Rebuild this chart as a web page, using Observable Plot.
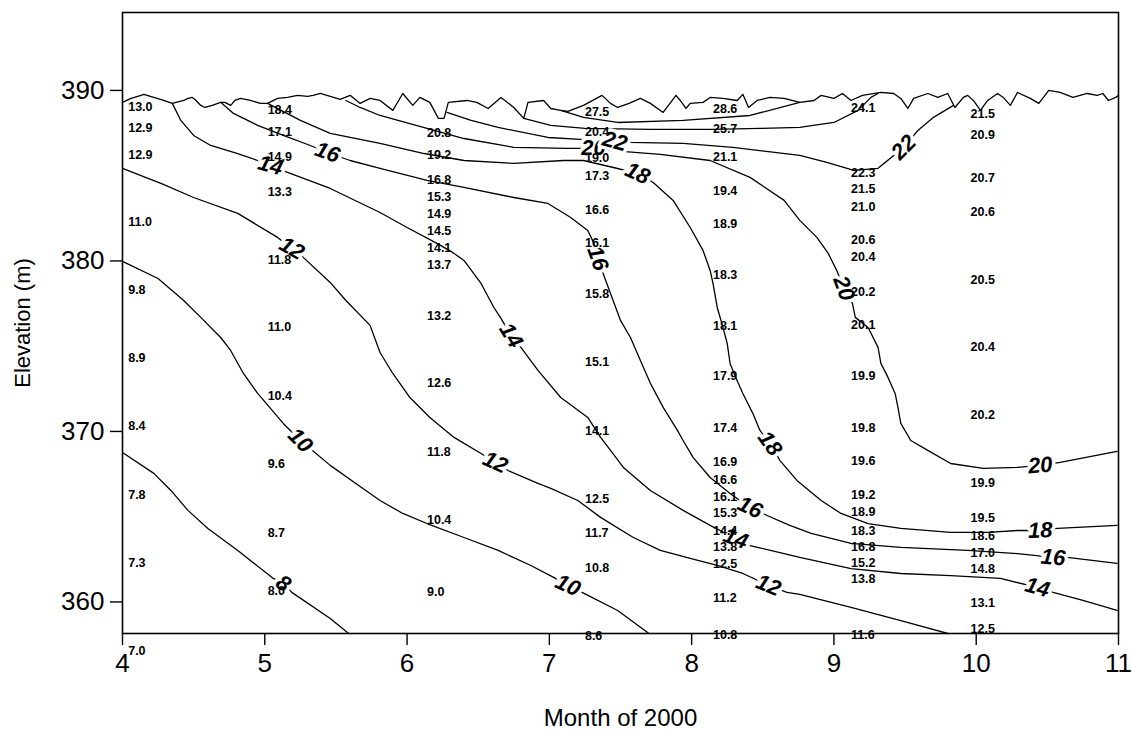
<!DOCTYPE html>
<html><head><meta charset="utf-8">
<script src="https://cdn.jsdelivr.net/npm/d3@7"></script>
<script src="https://cdn.jsdelivr.net/npm/@observablehq/plot@0.6"></script>
<style>
body{margin:0;background:#fff;}
#chart{width:1132px;height:732px;}
</style></head><body><div id="chart"></div>
<script>
// ---- axis ticks ----
const monthTicks = [4, 5, 6, 7, 8, 9, 10, 11];
const elevTicks = [360, 370, 380, 390];

// ---- measured temperature profiles (month of sampling, elevation m, temperature °C) ----
const aprMonth = 4.04;
const aprElev = [389.0, 387.8, 386.2, 382.3, 378.3, 374.3, 370.3, 366.3, 362.3, 357.1];
const aprTemp = [13.0, 12.9, 12.9, 11.0, 9.8, 8.9, 8.4, 7.8, 7.3, 7.0];

const mayMonth = 5.02;
const mayElev = [388.83, 387.55, 386.07, 384.04, 380.03, 376.1, 372.07, 368.12, 364.02, 360.67];
const mayTemp = [18.4, 17.1, 14.9, 13.3, 11.8, 11.0, 10.4, 9.6, 8.7, 8.0];

const junMonth = 6.14;
const junElev = [387.48, 386.19, 384.72, 383.74, 382.73, 381.73, 380.73, 379.74, 376.75, 372.82, 368.79, 364.78, 360.56];
const junTemp = [20.8, 19.2, 16.8, 15.3, 14.9, 14.5, 14.1, 13.7, 13.2, 12.6, 11.8, 10.4, 9.0];

const julMonth = 7.25;
const julElev = [388.73, 387.55, 386.01, 384.96, 382.96, 381.03, 378.04, 374.05, 370.0, 366.01, 364.02, 362.02, 357.98];
const julTemp = [27.5, 20.4, 19.0, 17.3, 16.6, 16.1, 15.8, 15.1, 14.1, 12.5, 11.7, 10.8, 8.6];

const augMonth = 8.15;
const augElev = [388.89, 387.71, 386.09, 384.08, 382.14, 379.15, 376.16, 373.23, 370.18, 368.2, 367.18, 366.14, 365.19, 364.15, 363.2, 362.2, 360.22, 358.04];
const augTemp = [28.6, 25.7, 21.1, 19.4, 18.9, 18.3, 18.1, 17.9, 17.4, 16.9, 16.6, 16.1, 15.3, 14.4, 13.8, 12.5, 11.2, 10.8];

const sepMonth = 9.12;
const sepElev = [388.94, 385.15, 384.19, 383.16, 381.2, 380.25, 378.17, 376.22, 373.24, 370.19, 368.26, 366.25, 365.27, 364.19, 363.21, 362.26, 361.32, 358.04];
const sepTemp = [24.1, 22.3, 21.5, 21.0, 20.6, 20.4, 20.2, 20.1, 19.9, 19.8, 19.6, 19.2, 18.9, 18.3, 16.8, 15.2, 13.8, 11.6];

const octMonth = 9.96;
const octElev = [388.59, 387.36, 384.84, 382.86, 378.86, 374.93, 370.94, 366.97, 364.9, 363.86, 362.86, 361.91, 359.93, 358.39];
const octTemp = [21.5, 20.9, 20.7, 20.6, 20.5, 20.4, 20.2, 19.9, 19.5, 18.6, 17.0, 14.8, 13.1, 12.5];

// ---- water surface elevation [month, elevation] ----
const surface = [[4.0,389.30],[4.06,389.53],[4.13,389.71],[4.15,389.77],[4.22,389.59],[4.29,389.41],[4.35,389.24],[4.43,389.41],[4.46,389.53],[4.49,389.59],[4.51,389.47],[4.55,389.12],[4.58,389.00],[4.63,389.12],[4.69,389.30],[4.72,389.30],[4.76,389.12],[4.79,389.41],[4.83,389.53],[4.90,389.41],[4.97,389.24],[5.02,389.24],[5.09,389.53],[5.16,389.59],[5.23,389.71],[5.30,389.65],[5.34,389.71],[5.39,389.82],[5.46,389.65],[5.53,389.47],[5.60,389.71],[5.67,389.24],[5.74,389.53],[5.81,389.41],[5.90,388.83],[5.97,389.82],[6.04,389.12],[6.09,389.59],[6.16,389.30],[6.22,388.36],[6.26,388.36],[6.29,389.30],[6.42,389.41],[6.49,389.30],[6.57,388.94],[6.66,389.59],[6.75,389.00],[6.82,388.36],[6.85,389.30],[6.96,389.41],[7.01,388.94],[7.08,388.83],[7.13,388.77],[7.24,389.12],[7.37,389.71],[7.43,389.24],[7.48,389.00],[7.56,389.24],[7.64,389.53],[7.71,389.24],[7.80,388.71],[7.89,389.71],[7.92,389.41],[7.96,388.94],[7.99,389.24],[8.08,389.30],[8.13,389.59],[8.22,389.53],[8.32,389.41],[8.36,389.77],[8.40,389.00],[8.46,389.41],[8.55,389.59],[8.65,389.53],[8.76,389.30],[8.86,389.41],[8.91,389.71],[9.00,389.53],[9.06,389.82],[9.12,389.41],[9.20,389.71],[9.33,389.88],[9.42,389.82],[9.47,389.53],[9.52,388.94],[9.56,389.53],[9.66,389.82],[9.73,389.59],[9.80,389.82],[9.85,389.00],[9.91,389.59],[9.94,389.71],[9.98,389.41],[10.03,388.83],[10.08,389.41],[10.15,389.82],[10.19,389.59],[10.24,389.12],[10.29,389.88],[10.38,389.53],[10.44,389.24],[10.51,390.00],[10.59,389.88],[10.68,389.59],[10.78,389.82],[10.85,389.71],[10.89,389.82],[10.93,389.41],[10.98,389.59],[11.0,389.71]];

// ---- isotherms [month, elevation] ----
const iso8 = [[4.00,368.77],[4.22,367.54],[4.34,366.54],[4.46,365.37],[4.60,364.31],[4.81,363.02],[5.06,361.38],[5.13,361.08],[5.19,360.56],[5.46,359.03],[5.59,358.15]];
const iso10 = [[4.00,379.97],[4.25,378.97],[4.43,377.68],[4.55,376.69],[4.69,375.51],[4.76,374.75],[4.85,373.40],[4.95,372.23],[5.13,370.47],[5.25,369.47],[5.31,369.06],[5.46,368.01],[5.64,366.95],[5.81,365.95],[5.97,365.19],[6.14,364.60],[6.40,363.78],[6.64,363.02],[6.87,362.14],[7.03,361.44],[7.13,360.97],[7.23,360.56],[7.48,359.50],[7.70,358.15]];
const iso12 = [[4.00,385.43],[4.27,384.55],[4.50,383.72],[4.81,382.79],[5.09,381.38],[5.19,380.73],[5.27,380.21],[5.46,378.74],[5.57,377.68],[5.74,376.22],[5.81,374.63],[5.90,373.40],[6.02,371.99],[6.16,370.82],[6.33,369.65],[6.52,368.71],[6.62,368.18],[6.71,367.71],[6.92,366.95],[7.01,366.66],[7.20,365.95],[7.36,364.96],[7.59,363.78],[7.78,363.02],[7.99,362.55],[8.18,362.14],[8.36,361.67],[8.54,360.97],[8.67,360.56],[8.76,360.44],[9.12,359.68],[9.47,358.91],[9.80,358.15]];
const iso14 = [[4.35,389.24],[4.41,388.24],[4.50,387.36],[4.62,386.77],[4.81,386.30],[4.95,385.89],[5.04,385.60],[5.16,385.19],[5.46,384.25],[5.81,382.84],[6.00,381.96],[6.21,381.03],[6.32,380.50],[6.40,380.03],[6.52,378.68],[6.61,377.27],[6.66,376.63],[6.73,375.63],[6.80,374.93],[6.92,373.58],[7.08,371.99],[7.27,370.82],[7.36,369.65],[7.43,368.89],[7.52,367.89],[7.71,366.54],[7.94,365.37],[8.13,364.49],[8.31,363.72],[8.41,363.31],[8.65,362.84],[8.76,362.61],[9.12,361.96],[9.47,361.67],[9.82,361.55],[10.17,361.38],[10.43,360.85],[10.54,360.56],[10.75,360.09],[10.99,359.50]];
const iso16 = [[4.69,389.30],[4.78,388.65],[4.95,387.95],[5.13,387.36],[5.32,386.77],[5.44,386.36],[5.60,385.89],[5.81,385.43],[6.14,384.72],[6.40,384.31],[6.75,383.72],[6.99,383.37],[7.15,382.55],[7.27,381.79],[7.31,381.09],[7.34,380.15],[7.37,379.44],[7.43,378.09],[7.50,376.51],[7.57,375.51],[7.64,374.16],[7.71,372.82],[7.80,371.41],[7.90,370.06],[7.94,369.47],[8.01,368.48],[8.13,367.30],[8.27,366.36],[8.41,365.54],[8.53,365.07],[8.69,364.49],[8.84,364.02],[9.12,363.43],[9.47,363.20],[9.94,363.02],[10.29,362.84],[10.54,362.61],[10.64,362.61],[10.99,362.26]];
const iso18 = [[5.02,389.24],[5.25,388.24],[5.46,387.48],[5.81,386.89],[6.12,386.30],[6.40,385.89],[6.75,385.72],[7.10,385.89],[7.24,385.89],[7.45,385.48],[7.62,385.13],[7.73,384.60],[7.87,383.55],[7.99,381.96],[8.08,380.62],[8.13,379.44],[8.15,378.68],[8.18,377.27],[8.22,376.10],[8.25,375.16],[8.27,373.99],[8.31,373.17],[8.36,372.23],[8.43,371.06],[8.48,370.06],[8.55,369.30],[8.62,368.30],[8.74,367.13],[8.91,365.95],[9.05,365.19],[9.24,364.60],[9.47,364.31],[9.82,364.08],[10.08,364.08],[10.29,364.19],[10.45,364.19],[10.57,364.31],[10.99,364.49]];
const iso20 = [[5.57,389.41],[5.67,389.00],[5.81,388.53],[6.14,387.77],[6.40,387.18],[6.75,386.66],[7.13,386.60],[7.31,386.60],[7.42,386.48],[7.78,386.25],[8.13,385.89],[8.41,384.90],[8.65,383.55],[8.76,382.38],[8.88,381.38],[8.96,380.44],[9.02,379.44],[9.07,378.39],[9.13,377.51],[9.15,376.69],[9.24,376.10],[9.31,374.93],[9.33,373.99],[9.38,373.17],[9.43,372.23],[9.45,371.41],[9.47,370.47],[9.54,369.47],[9.66,368.89],[9.82,368.12],[10.05,367.83],[10.29,367.89],[10.45,368.01],[10.59,368.18],[10.99,368.83]];
const iso22 = [[6.28,388.71],[6.45,388.24],[6.64,387.83],[6.99,387.24],[7.22,387.13],[7.46,387.01],[7.57,386.95],[7.94,386.89],[8.29,386.66],[8.76,386.19],[8.95,385.78],[9.14,385.31],[9.31,385.43],[9.49,386.66],[9.59,387.65],[9.70,388.42],[9.84,389.12]];
const iso24 = [[6.82,388.36],[7.01,387.95],[7.25,387.77],[7.71,387.71],[8.15,387.71],[8.48,387.77],[8.76,387.83],[9.00,388.12],[9.17,388.83],[9.26,389.59],[9.31,389.82]];
const iso26 = [[7.08,388.83],[7.24,388.42],[7.48,388.12],[7.94,388.24],[8.41,388.53],[8.76,389.30]];

// ---- isotherm labels ----
const isoLabelText  = ["8","10","10","12","12","12","14","14","14","14","16","16","16","16","18","18","18","20","20","20","22","22"];
const isoLabelMonth = [5.13,5.25,7.13,5.19,6.62,8.54,5.04,6.73,8.31,10.43,5.44,7.34,8.41,10.54,7.62,8.55,10.45,7.31,9.07,10.45,7.46,9.49];
const isoLabelElev  = [361.08,369.47,360.97,380.73,368.18,360.97,385.60,375.63,363.72,360.85,386.36,380.15,365.54,362.61,385.13,369.30,364.19,386.60,378.39,368.01,387.01,386.66];
const isoLabelAngle = [35,45,25,30,25,22,15,58,20,15,20,70,25,5,25,55,-2,0,70,-5,15,-45];

// ---- build tables ----
const profiles = [
  [aprMonth, aprElev, aprTemp], [mayMonth, mayElev, mayTemp], [junMonth, junElev, junTemp],
  [julMonth, julElev, julTemp], [augMonth, augElev, augTemp], [sepMonth, sepElev, sepTemp],
  [octMonth, octElev, octTemp]
];
const readings = profiles.flatMap(([m, es, ts]) => es.map((e, i) => ({month: m, elev: e, temp: ts[i]})));
const isoLines = [iso8, iso10, iso12, iso14, iso16, iso18, iso20, iso22, iso24, iso26];
const isoLabels = isoLabelText.map((t, i) => ({text: t, month: isoLabelMonth[i], elev: isoLabelElev[i], angle: isoLabelAngle[i]}));

const FONT = "'Liberation Sans', Arial, Helvetica, sans-serif";

const chart = Plot.plot({
  width: 1132,
  height: 732,
  marginLeft: 122,
  marginRight: 14,
  marginTop: 12,
  marginBottom: 99,
  style: {fontFamily: FONT, background: "#fff", color: "#000"},
  x: {domain: [4, 11]},
  y: {domain: [358.15, 394.57]},
  marks: [
    ...isoLines.map(L => Plot.line(L, {x: d => d[0], y: d => d[1], stroke: "#000", strokeWidth: 1.3, clip: true})),
    Plot.line(surface, {x: d => d[0], y: d => d[1], stroke: "#000", strokeWidth: 1.3}),
    Plot.text(isoLabels, {x: "month", y: "elev", text: "text", rotate: "angle",
      fontSize: 22, fontWeight: "bold", fontStyle: "italic", fill: "#000",
      stroke: "#fff", strokeWidth: 7, paintOrder: "stroke"}),
    Plot.text(readings, {x: "month", y: "elev", text: d => d.temp.toFixed(1), textAnchor: "start",
      fontSize: 12.5, fontWeight: "bold", fill: "#000"}),
    Plot.frame({stroke: "#000", strokeWidth: 1.6}),
    Plot.axisX({ticks: monthTicks, tickSize: 12, tickPadding: 8, fontSize: 26, label: null, tickFormat: d => String(d), strokeWidth: 1.4}),
    Plot.axisY({ticks: elevTicks, tickSize: 12, tickPadding: 6, fontSize: 26, label: null, tickFormat: d => String(d), strokeWidth: 1.4}),
    Plot.text(["Elevation (m)"], {frameAnchor: "left", dx: -100, rotate: -90, textAnchor: "middle", lineAnchor: "middle", fontSize: 22, fill: "#000"}),
    Plot.text(["Month of 2000"], {frameAnchor: "bottom", dy: 85, textAnchor: "middle", lineAnchor: "middle", fontSize: 24, fill: "#000"})
  ]
});
document.getElementById("chart").appendChild(chart);
</script></body></html>
